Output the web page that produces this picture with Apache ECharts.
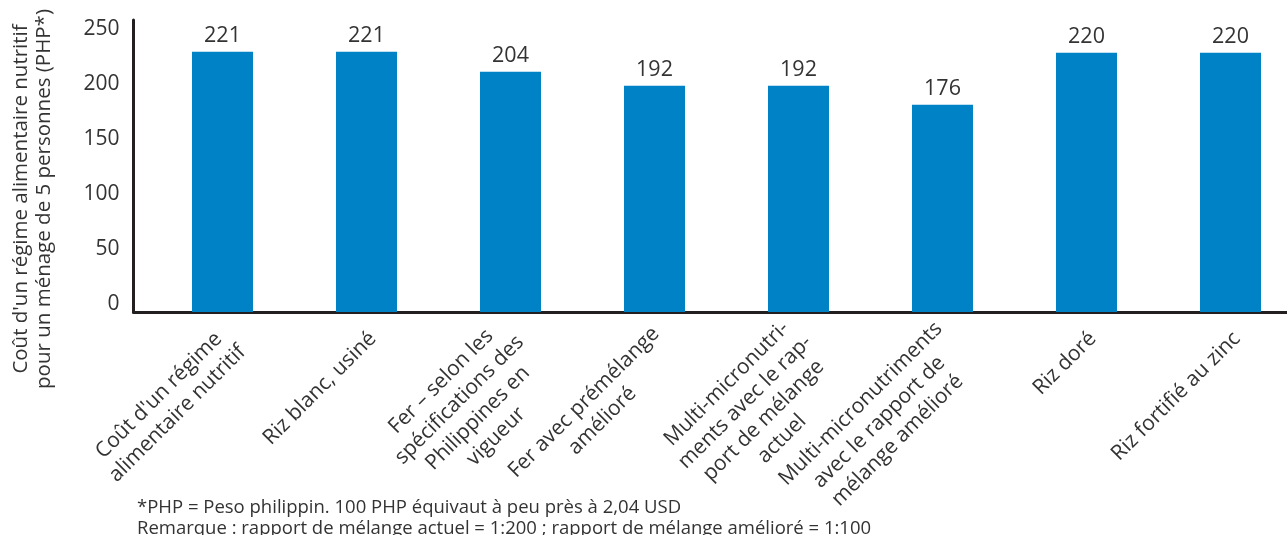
<!DOCTYPE html>
<html>
<head>
<meta charset="utf-8">
<script src="https://cdn.jsdelivr.net/npm/echarts@6/dist/echarts.min.js"></script>
<style>
  html, body { margin: 0; padding: 0; background: #fff; }
  #chart { width: 1287px; height: 535px; }
</style>
</head>
<body>
<div id="chart"></div>
<script>
// data
const categories = [
  "Coût d'un régime\nalimentaire nutritif",
  "Riz blanc, usiné",
  "Fer – selon les\nspécifications des\nPhilippines en\nvigueur",
  "Fer avec prémélange\namélioré",
  "Multi-micronutri-\nments avec le rap-\nport de mélange\nactuel",
  "Multi-micronutriments\navec le rapport de\nmélange amélioré",
  "Riz doré",
  "Riz fortifié au zinc"
];
const costs = [221, 221, 204, 192, 192, 176, 220, 220];
const yTicks = { min: 0, max: 250, step: 50 };
const yTitle = "Coût d'un régime alimentaire nutritif\npour un ménage de 5 personnes (PHP*)";
const notes = [
  "*PHP = Peso philippin. 100 PHP équivaut à peu près à 2,04 USD",
  "Remarque : rapport de mélange actuel = 1:200 ; rapport de mélange amélioré = 1:100"
];

const FONT = "'Open Sans', 'Noto Sans', sans-serif";
const TXT = '#333333';
const LINE = '#231f20';

// multi-line labels: centred lines, plus a small spacer per extra line so
// the block hangs a bit lower (as in the original layout)
function catLabel(v) {
  const lines = v.split('\n');
  const spacer = lines.slice(1).map(() => '{sp| }\n').join('');
  return spacer + lines.map(s => '{c|' + s + '}').join('\n');
}

const chart = echarts.init(document.getElementById('chart'), null, { renderer: 'canvas' });

chart.setOption({
  animation: false,
  backgroundColor: '#ffffff',
  textStyle: { fontFamily: FONT },
  grid: [
    { left: 150.5, right: -15.5, top: 17.5, bottom: 223, outerBoundsMode: 'none' }, // bars
    { left: 133.5, right: 0, top: 20, bottom: 223, outerBoundsMode: 'none' },       // axis lines
    { left: 133.5, right: 0, top: 29, bottom: 231, outerBoundsMode: 'none' }        // y tick labels
  ],
  xAxis: [
    {
      type: 'category', gridIndex: 0, data: categories,
      axisLine: { show: false }, axisTick: { show: false },
      axisLabel: {
        interval: 0, rotate: 45, margin: 0,
        padding: [42, 12, 0, 0],
        color: TXT, fontFamily: FONT, fontSize: 21, lineHeight: 26,
        formatter: catLabel,
        rich: {
          c: { align: 'center', color: TXT, fontFamily: FONT, fontSize: 21, lineHeight: 26 },
          sp: { fontSize: 1, lineHeight: 12 }
        }
      }
    },
    {
      type: 'value', gridIndex: 1, min: 0, max: 1,
      axisLine: { show: true, onZero: false, lineStyle: { color: LINE, width: 3 } },
      axisTick: { show: false }, axisLabel: { show: false }, splitLine: { show: false }
    },
    {
      type: 'value', gridIndex: 2, min: 0, max: 1, show: false
    }
  ],
  yAxis: [
    {
      type: 'value', gridIndex: 0, min: yTicks.min, max: yTicks.max, interval: yTicks.step,
      show: false
    },
    {
      type: 'value', gridIndex: 1, min: 0, max: 1,
      axisLine: { show: true, onZero: false, lineStyle: { color: LINE, width: 3 } },
      axisTick: { show: false }, axisLabel: { show: false }, splitLine: { show: false }
    },
    {
      type: 'value', gridIndex: 2, min: yTicks.min, max: yTicks.max, interval: yTicks.step,
      axisLine: { show: false }, axisTick: { show: false }, splitLine: { show: false },
      axisLabel: { margin: 14, color: TXT, fontFamily: FONT, fontSize: 21 }
    }
  ],
  series: [{
    type: 'bar',
    xAxisIndex: 0, yAxisIndex: 0,
    data: costs,
    barWidth: 61,
    itemStyle: { color: '#0082c6' },
    label: {
      show: true, position: 'top', distance: 5,
      color: TXT, fontFamily: FONT, fontSize: 21.5
    }
  }],
  graphic: [
    {
      type: 'text', x: 33, y: 199, rotation: Math.PI / 2,
      style: {
        text: yTitle, fill: TXT, font: '20.5px ' + FONT,
        align: 'center', verticalAlign: 'middle', lineHeight: 23
      }
    },
    {
      type: 'text', x: 137, y: 497,
      style: {
        text: notes.join('\n'), fill: TXT, font: '18.5px ' + FONT,
        align: 'left', verticalAlign: 'top', lineHeight: 21
      }
    }
  ]
});
</script>
</body>
</html>
